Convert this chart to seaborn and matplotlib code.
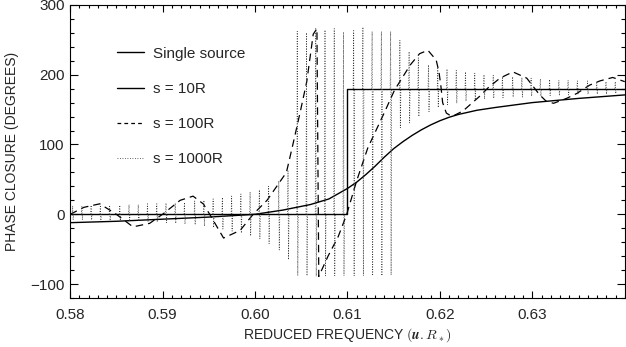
import numpy as np
import pandas as pd
import matplotlib
matplotlib.use("Agg")
import matplotlib.pyplot as plt
import seaborn as sns
from matplotlib.lines import Line2D
from matplotlib.ticker import MultipleLocator

# single source phase closure
single_x = [0.580, 0.585, 0.590, 0.595, 0.600, 0.603, 0.606, 0.608, 0.610, 0.611,
            0.612, 0.613, 0.614, 0.615, 0.616, 0.617, 0.618, 0.619, 0.620, 0.621,
            0.622, 0.624, 0.626, 0.630, 0.635, 0.640]
single_y = [-12, -10, -7, -4, 0, 6, 14, 22, 37, 46,
            57, 69, 82, 94, 104, 113, 121, 128, 134, 139,
            143, 149, 153, 160, 166, 171]

# s = 10R : step
s10_x = [0.58, 0.61, 0.61, 0.64]
s10_y = [0, 0, 180, 180]

# s = 100R : dashed
s100_x = [0.5800, 0.5815, 0.5832, 0.5849, 0.5868, 0.5886, 0.5901, 0.5919, 0.5933, 0.5944,
          0.5951, 0.5966, 0.5984, 0.5998, 0.6013, 0.6034, 0.6041, 0.6049, 0.6056, 0.6063,
          0.6067, 0.6069, 0.6079, 0.6090, 0.6099, 0.6110, 0.6122, 0.6139, 0.6151, 0.6168,
          0.6178, 0.6187, 0.6196, 0.6199, 0.6201, 0.6203, 0.6207, 0.6213, 0.6225, 0.6243,
          0.6252, 0.6265, 0.6279, 0.6294, 0.6308, 0.6315, 0.6323, 0.6337, 0.6348, 0.6362,
          0.6373, 0.6387, 0.6400]
s100_y = [0, 10, 15, 1, -18, -13, 1, 20, 26, 15,
          0, -34, -23, 0, 20, 60, 100, 147, 190, 258,
          266, -89, -60, -32, -1, 48, 95, 143, 178, 214,
          230, 235, 221, 204, 185, 160, 145, 140, 148, 169,
          181, 195, 204, 195, 171, 162, 159, 166, 173, 185,
          191, 196, 190]

# s = 1000R : fast oscillation, one column per cycle
col_x = [0.5803, 0.5813, 0.5823, 0.5833, 0.5843, 0.5854, 0.5864, 0.5874, 0.5884, 0.5894,
         0.5904, 0.5914, 0.5924, 0.5935, 0.5945, 0.5955, 0.5965, 0.5975, 0.5985, 0.5995,
         0.6005, 0.6015, 0.6026, 0.6036, 0.6046, 0.6056, 0.6066, 0.6076, 0.6086, 0.6096,
         0.6107, 0.6117, 0.6127, 0.6137, 0.6147, 0.6157, 0.6167, 0.6177, 0.6188, 0.6198,
         0.6208, 0.6218, 0.6228, 0.6238, 0.6248, 0.6258, 0.6268, 0.6279, 0.6289, 0.6299,
         0.6309, 0.6319, 0.6329, 0.6339, 0.6349, 0.6360, 0.6370, 0.6380, 0.6390]
col_top = [12, 12, 13, 13, 13, 13, 14, 14, 15, 15,
           16, 16, 17, 19, 20, 22, 24, 26, 29, 32,
           35, 40, 48, 62, 262, 260, 266, 264, 266, 261,
           263, 268, 262, 262, 262, 249, 233, 224, 214, 209,
           208, 206, 204, 202, 200, 199, 197, 197, 196, 195,
           194, 193, 192, 192, 191, 191, 190, 190, 190]
col_bot = [-8, -8, -8, -9, -9, -9, -10, -10, -11, -11,
           -12, -13, -14, -15, -17, -19, -21, -24, -27, -31,
           -35, -42, -51, -65, -88, -88, -89, -88, -88, -88,
           -88, -88, -88, -88, -87, 124, 131, 140, 147, 153,
           157, 159, 162, 164, 165, 166, 167, 168, 168, 169,
           169, 170, 170, 171, 171, 172, 172, 172, 173]
col_base = [0] * 30 + [180] * 29

labels = ["Single source", "s = 10R", "s = 100R", "s = 1000R"]

sns.set_style("ticks")
plt.rcParams["font.family"] = ["Liberation Sans", "DejaVu Sans"]
plt.rcParams["mathtext.fontset"] = "cm"
plt.rcParams["axes.linewidth"] = 0.8

fig = plt.figure(figsize=(6.26, 3.47), dpi=100)
ax = fig.add_axes([0.112, 0.141, 0.886, 0.845])

sns.lineplot(x=single_x, y=single_y, ax=ax, color="k", lw=1.0,
             estimator=None, sort=False)
sns.lineplot(x=s10_x, y=s10_y, ax=ax, color="k", lw=1.0,
             estimator=None, sort=False)
sns.lineplot(x=s100_x, y=s100_y, ax=ax, color="k", lw=0.9,
             linestyle=(0, (6, 4)), estimator=None, sort=False)

# each oscillation cycle drawn as a narrow spike
d = 0.00008
rows = []
for i, (x, b, t, lo) in enumerate(zip(col_x, col_base, col_top, col_bot)):
    rows += [(i, x - d, b), (i, x - d / 3, t), (i, x + d / 3, lo), (i, x + d, b)]
spikes = pd.DataFrame(rows, columns=["cycle", "x", "y"])
sns.lineplot(data=spikes, x="x", y="y", units="cycle", ax=ax, color="#333333",
             lw=0.6, linestyle=(0, (1, 2)), estimator=None, sort=False)

ax.set_xlim(0.58, 0.64)
ax.set_ylim(-120, 300)
ax.xaxis.set_major_locator(MultipleLocator(0.01))
ax.xaxis.set_minor_locator(MultipleLocator(0.001))
ax.yaxis.set_major_locator(MultipleLocator(100))
ax.yaxis.set_minor_locator(MultipleLocator(20))
ax.set_xticks([0.58, 0.59, 0.60, 0.61, 0.62, 0.63])
ax.set_xticklabels(["0.58", "0.59", "0.60", "0.61", "0.62", "0.63"])
ax.tick_params(which="both", direction="in", top=True, right=True,
               labelsize=11, width=0.8, color="k")
ax.tick_params(axis="x", which="major", length=5, pad=7)
ax.tick_params(axis="x", which="minor", length=2.5)
ax.tick_params(axis="y", which="major", length=6, pad=4)
ax.tick_params(axis="y", which="minor", length=3)
for s in ax.spines.values():
    s.set_color("k")

ax.set_ylabel("PHASE CLOSURE (DEGREES)", fontsize=10, labelpad=8)
ax.set_xlabel(r"REDUCED FREQUENCY $(\boldsymbol{u.R_*})$", fontsize=10, labelpad=3)

handles = [Line2D([], [], color="k", lw=1.0),
           Line2D([], [], color="k", lw=1.0),
           Line2D([], [], color="k", lw=0.9, linestyle=(0, (3, 2.5))),
           Line2D([], [], color="#333333", lw=0.6, linestyle=(0, (1, 2)))]
ax.legend(handles, labels, loc="upper left", bbox_to_anchor=(0.085, 0.857),
          frameon=False, fontsize=11, handlelength=1.75, handletextpad=0.6,
          labelspacing=1.38, borderpad=0, borderaxespad=0)

try:
    fig.canvas.draw()
except Exception:
    ax.set_xlabel(r"REDUCED FREQUENCY $(\mathit{u.R_*})$", fontsize=10, labelpad=3)

fig.savefig("out.png", dpi=100)
